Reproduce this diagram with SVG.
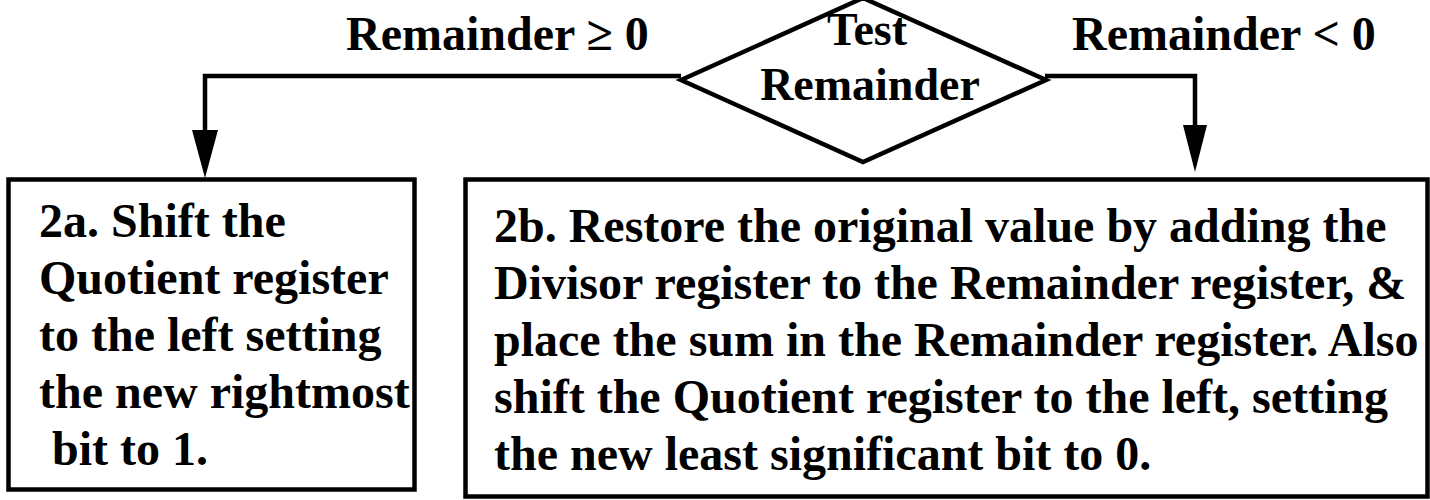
<svg xmlns="http://www.w3.org/2000/svg" width="1430" height="500" viewBox="0 0 1430 500">
  <style>
    .shape { fill: #fff; stroke: #000; stroke-width: 4.5; }
    .wire { fill: none; stroke: #000; stroke-width: 4.5; }
    .head { fill: #000; stroke: none; }
    .txt { font-family: "Liberation Serif", "Times New Roman", serif; font-weight: bold; font-size: 48px; fill: #000; }
    .dtxt { font-family: "Liberation Serif", "Times New Roman", serif; font-weight: bold; font-size: 46px; fill: #000; text-anchor: middle; }
  </style>
  <rect width="1430" height="500" fill="#fff"/>

  <!-- branch connectors -->
  <g id="connectors">
    <path class="wire" d="M 681 76 H 205 V 132"/>
    <polygon class="head" points="192,130 218,130 205,178"/>
    <path class="wire" d="M 1045 76 H 1195 V 127"/>
    <polygon class="head" points="1183,125 1207,125 1195,172"/>
    <text class="txt" x="346" y="50">Remainder ≥ 0</text>
    <text class="txt" x="1072" y="50">Remainder &lt; 0</text>
  </g>

  <!-- decision -->
  <g id="test-remainder">
    <polygon class="shape" points="681,80 863,-2 1046,80 863,162"/>
    <text class="dtxt" x="867" y="45">Test</text>
    <text class="dtxt" x="870" y="100">Remainder</text>
  </g>

  <!-- step 2a -->
  <g id="step-2a">
    <rect class="shape" x="8.5" y="179.5" width="406" height="310"/>
    <text class="txt" x="39" y="237">2a. Shift the</text>
    <text class="txt" x="39" y="294">Quotient register</text>
    <text class="txt" x="39" y="351">to the left setting</text>
    <text class="txt" x="39" y="408">the new rightmost</text>
    <text class="txt" x="52" y="465">bit to 1.</text>
  </g>

  <!-- step 2b -->
  <g id="step-2b">
    <rect class="shape" x="465.5" y="179.5" width="962" height="317"/>
    <text class="txt" x="494" y="242">2b. Restore the original value by adding the</text>
    <text class="txt" x="494" y="299">Divisor register to the Remainder register, &amp;</text>
    <text class="txt" x="494" y="356">place the sum in the Remainder register. Also</text>
    <text class="txt" x="494" y="413">shift the Quotient register to the left, setting</text>
    <text class="txt" x="494" y="470">the new least significant bit to 0.</text>
  </g>
</svg>
